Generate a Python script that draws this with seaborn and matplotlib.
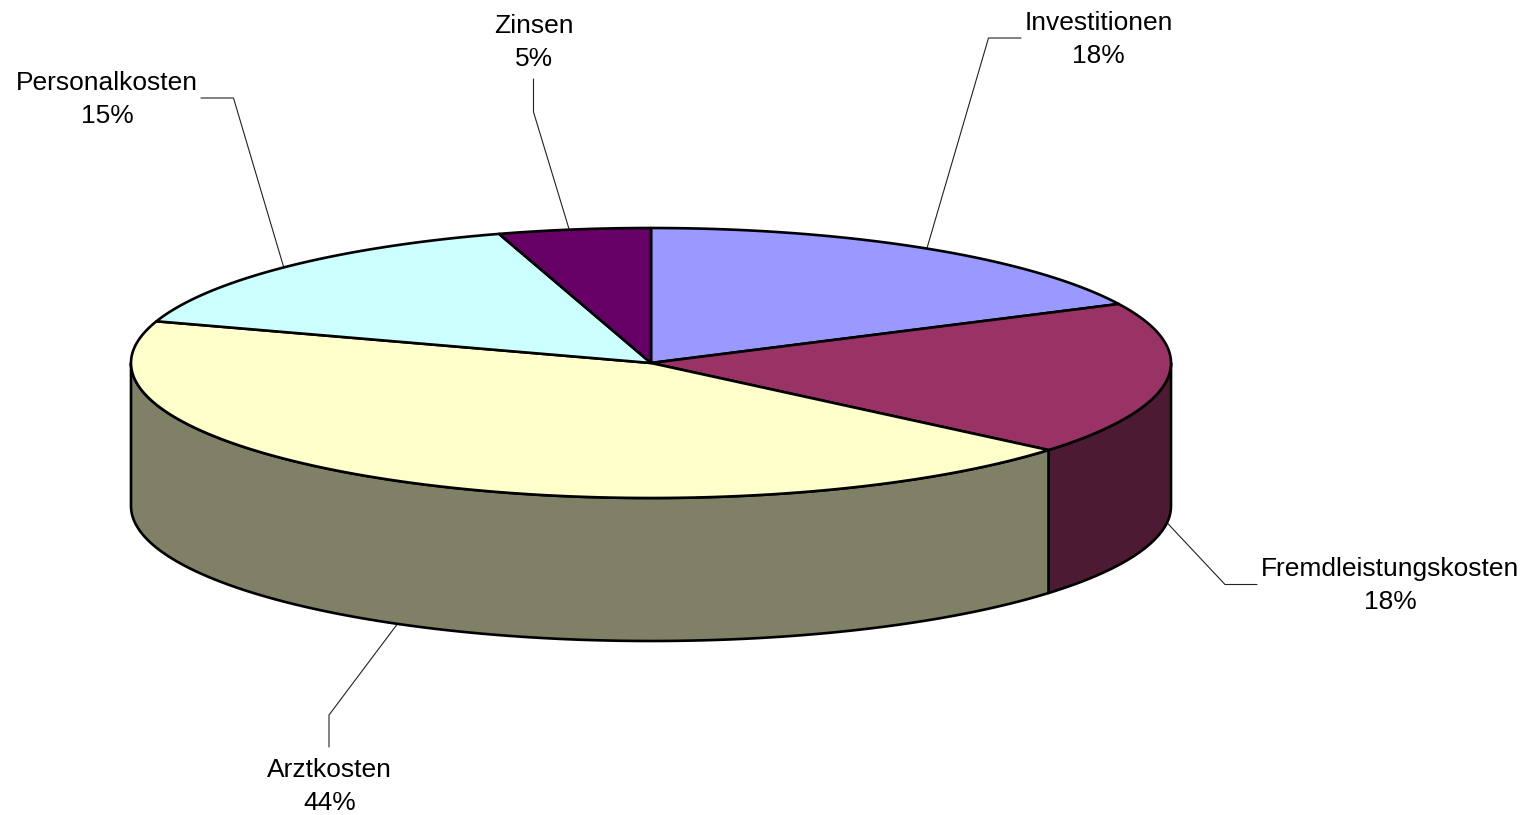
import numpy as np
import matplotlib
matplotlib.use("Agg")
import matplotlib.pyplot as plt
import seaborn as sns

# --- data ---
categories = ["Investitionen", "Fremdleistungskosten", "Arztkosten", "Personalkosten", "Zinsen"]
shares = [17.8, 18.35, 43.85, 15.28, 4.72]
share_labels = ["18%", "18%", "44%", "15%", "5%"]
top_colors = ["#9999FF", "#993366", "#FFFFCC", "#CCFFFF", "#660066"]

# --- layout (pixels) ---
W, H = 1537, 815
CX, CY, RX, RY, DEPTH = 651, 363, 520, 135, 143
label_x = [1098.5, 1390, 329.5, 107, 534]
label_base = [30, 576, 777, 90, 33]
LINE_GAP = 33
leader_start = [(1021, 38), (1257, 584.5), (329, 747), (201, 98), (533.5, 79)]
leader_elbow = [(988.5, 38), (1225, 584.5), (329, 715), (233.5, 98), (533.5, 112)]
foot_dx = [0, 0, -1, -3, -5]

sns.set_theme(style="white")
plt.rcParams["font.family"] = ["Liberation Sans", "DejaVu Sans"]
palette = sns.color_palette(top_colors)
side_palette = [tuple(0.5 * c for c in col) for col in palette]

fig = plt.figure(figsize=(W / 100, H / 100), dpi=100, facecolor="white")
ax = fig.add_axes([0, 0, 1, 1])
ax.set_xlim(0, W)
ax.set_ylim(H, 0)
ax.axis("off")


def rim(a_deg, drop=0.0):
    a = np.radians(a_deg)
    return CX + RX * np.cos(a), CY - RY * np.sin(a) + drop


# slice boundaries: start at 12 o'clock, clockwise (standard angle decreasing)
cum = np.concatenate([[0], np.cumsum(shares)]) / np.sum(shares)
angles = 90 - 360 * cum
EDGE = dict(edgecolor="black", linewidth=1.9, joinstyle="round")

# side walls: the visible part is the front half (angles 0 .. -180)
for i in range(len(shares)):
    a0, a1 = angles[i], angles[i + 1]
    hi, lo = min(a0, 0), max(a1, -180)
    if hi <= lo:
        continue
    t = np.linspace(hi, lo, 200)
    xt, yt = rim(t)
    xb, yb = rim(t[::-1], DEPTH)
    ax.fill(np.r_[xt, xb], np.r_[yt, yb], facecolor=side_palette[i], zorder=2, **EDGE)

# top faces
for i in range(len(shares)):
    t = np.linspace(angles[i], angles[i + 1], 300)
    xt, yt = rim(t)
    ax.fill(np.r_[CX, xt], np.r_[CY, yt], facecolor=palette[i], zorder=3, **EDGE)

# leaders and labels
for i, name in enumerate(categories):
    mid = (angles[i] + angles[i + 1]) / 2
    drop = DEPTH if np.sin(np.radians(mid)) < 0 else 0
    fx, fy = rim(mid, drop)
    fx += foot_dx[i]
    sx, sy = leader_start[i]
    ex, ey = leader_elbow[i]
    ax.plot([sx, ex, fx], [sy, ey, fy], color="#222222", lw=0.8, zorder=1,
            solid_joinstyle="miter")
    ax.text(label_x[i], label_base[i], name, ha="center", va="baseline",
            fontsize=19, color="black", zorder=5)
    ax.text(label_x[i], label_base[i] + LINE_GAP, share_labels[i], ha="center",
            va="baseline", fontsize=19, color="black", zorder=5)

fig.savefig("out.png", dpi=100, facecolor="white")
